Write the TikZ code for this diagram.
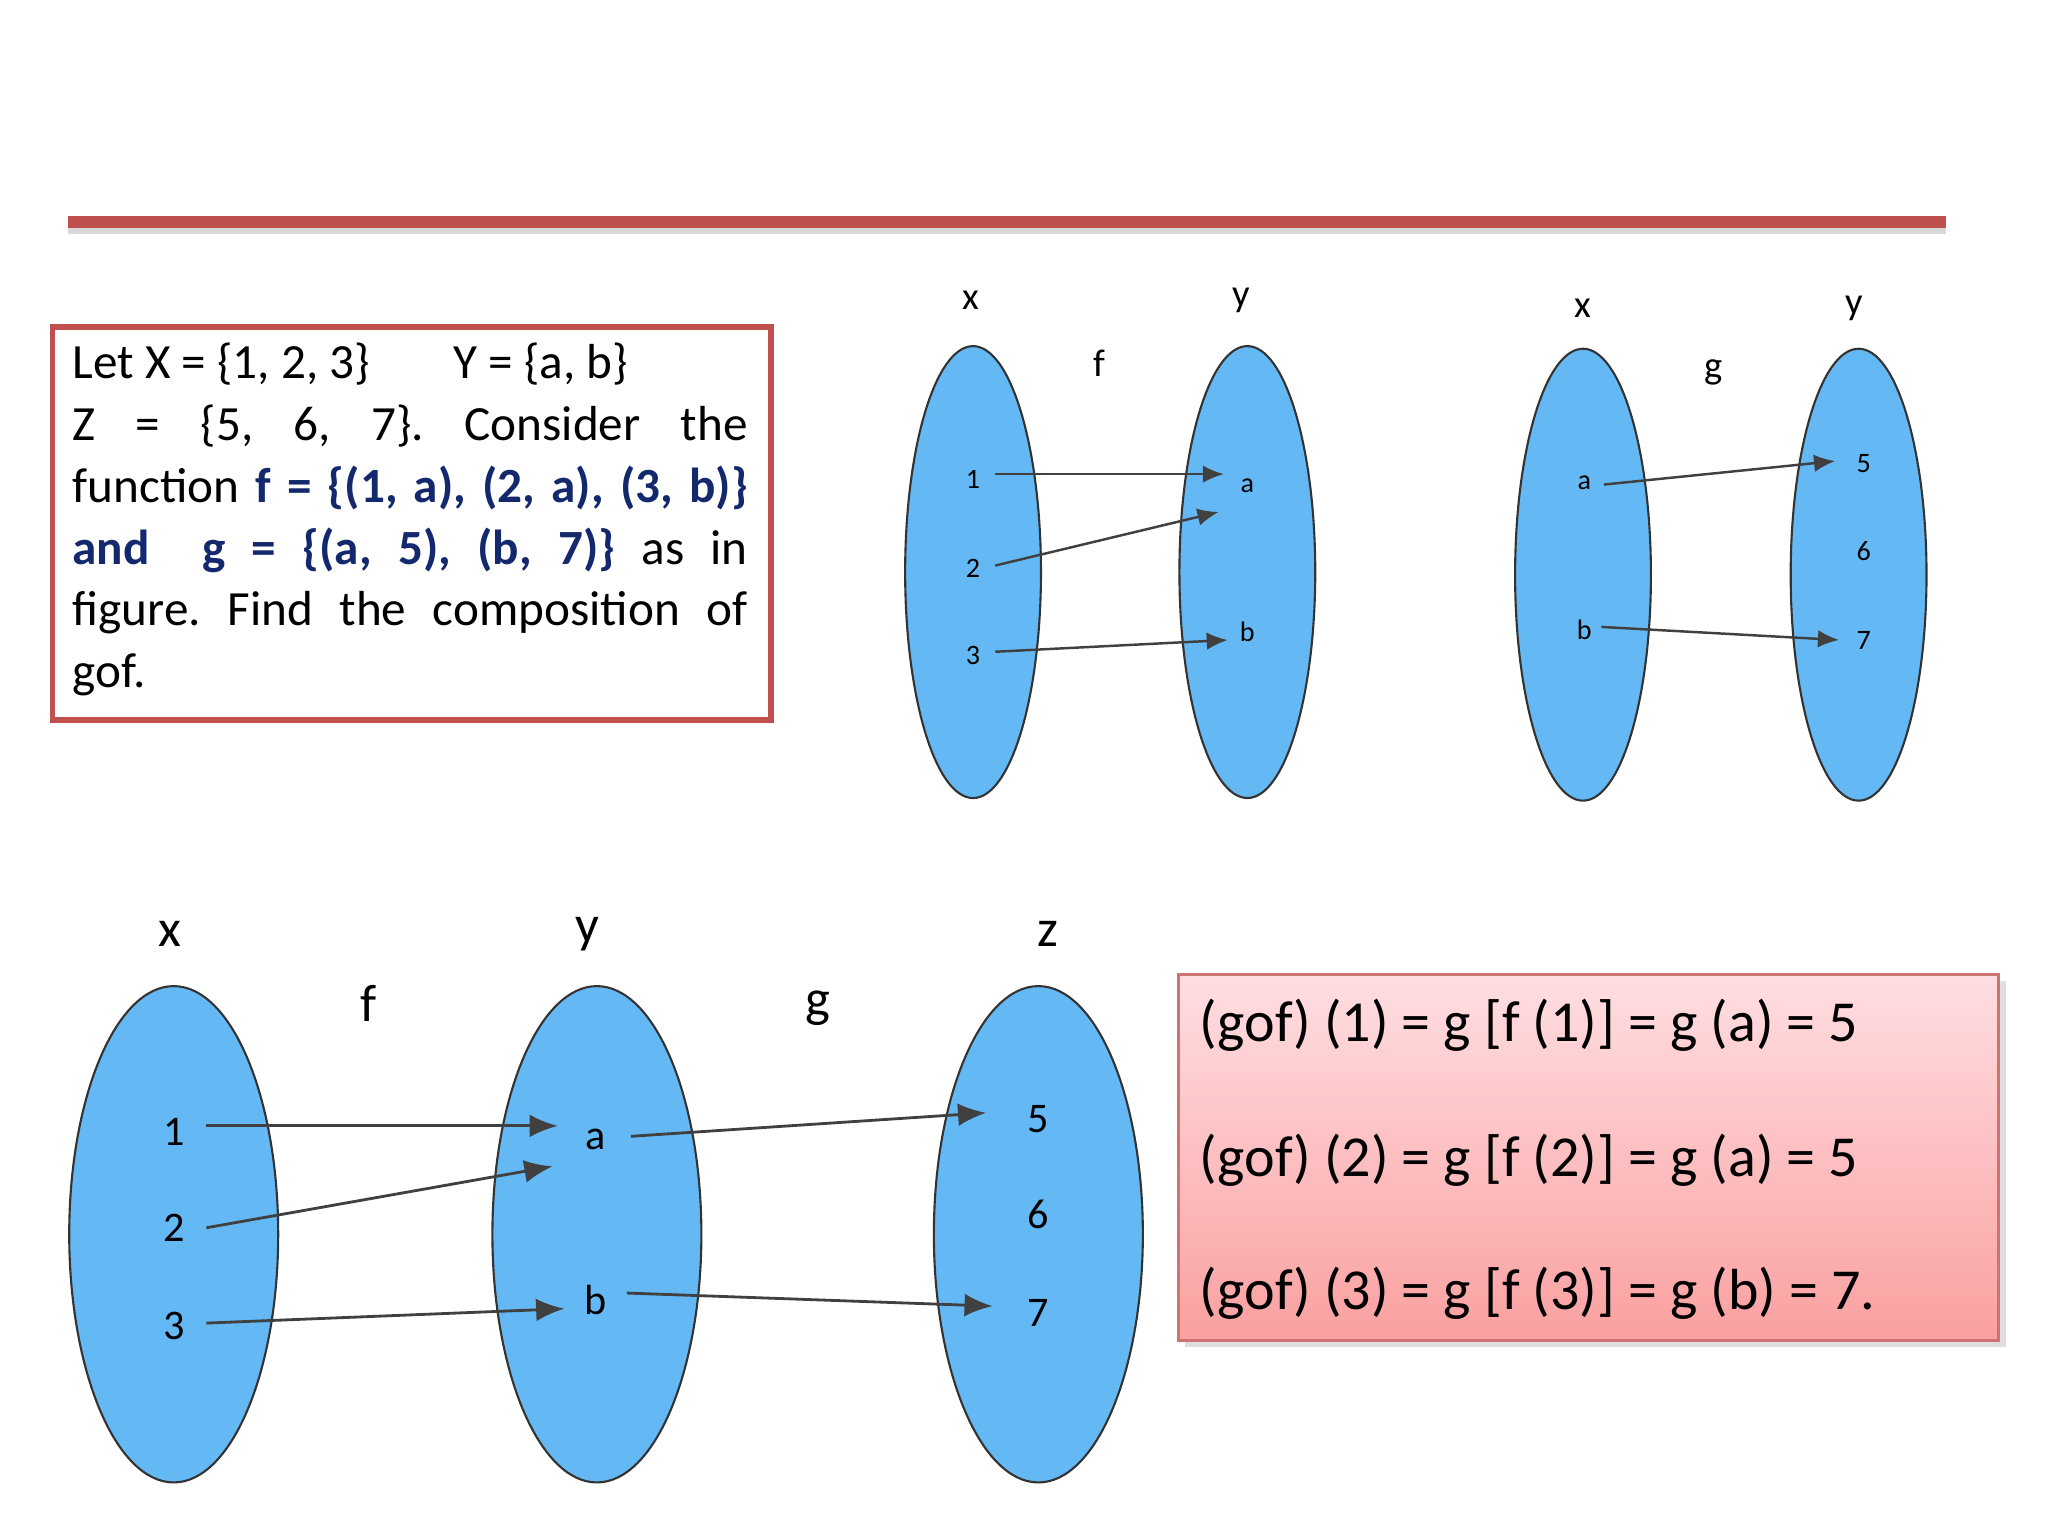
\documentclass[tikz,border=0pt]{standalone}
\usepackage{fontspec}
\setmainfont{Carlito}
\usetikzlibrary{shapes.geometric,arrows.meta,shadows}
\definecolor{redline}{RGB}{192,80,77}
\definecolor{setblue}{RGB}{100,185,245}
\definecolor{navy}{RGB}{20,40,110}
\definecolor{pinktop}{RGB}{255,222,226}
\definecolor{pinkbot}{RGB}{250,160,160}
\tikzset{
 setS/.style={ellipse,draw=black!80,fill=setblue,line width=0.6pt,minimum width=104*0.01306cm,minimum height=346*0.01306cm,inner sep=0},
 setL/.style={ellipse,draw=black!80,fill=setblue,line width=0.6pt,minimum width=160*0.01306cm,minimum height=380*0.01306cm,inner sep=0},
 lblS/.style={font=\fontsize{8}{9}\selectfont,inner sep=1pt},
 lblL/.style={font=\fontsize{12}{13}\selectfont,inner sep=1pt},
 capS/.style={font=\fontsize{11}{12}\selectfont},
 capL/.style={font=\fontsize{15}{16}\selectfont},
 arr/.style={-{Latex[length=6pt,width=5pt]},black!75,line width=0.7pt},
 arrL/.style={-{Latex[length=8pt,width=6.5pt]},black!75,line width=0.8pt}
}
\begin{document}
\frenchspacing
\begin{tikzpicture}[x=0.01306cm,y=-0.01306cm]
\useasboundingbox (0,0) rectangle (1568,1176);
% header line
\draw[black!15,line width=3pt] (52,175) -- (1490,175);
\draw[redline,line width=3.5pt] (52,170) -- (1490,170);
% problem box
\node[draw=redline,line width=1.6pt,minimum width=550*0.01306cm,minimum height=301*0.01306cm,anchor=north west] (pb) at (38,248) {};
\node[anchor=north west,text width=517*0.01306cm,align=justify,inner sep=0,font=\fontsize{14}{17.6}\selectfont] (pt) at (55,262)
{Let X = \{1, 2, 3\}\hspace{1.7em}Y = \{a, b\}\\ Z = \{5, 6, 7\}. Consider the\linebreak function \textcolor{navy}{\textbf{f = \{(1, a), (2, a), (3, b)\}}}\linebreak \textcolor{navy}{\textbf{and \ g = \{(a, 5), (b, 7)\}}} as in\linebreak figure. Find the composition of\linebreak gof.};
% top-left diagram
\node[setS] (X1) at (745,438) {};
\node[setS] (Y1) at (955,438) {};
\node[capS] (x1) at (743,230) {x};
\node[capS] (y1) at (950,230) {y};
\node[capS] (f1) at (842,278) {f};
\node[lblS] (e11) at (745,367) {1};
\node[lblS] (e12) at (745,435) {2};
\node[lblS] (e13) at (745,502) {3};
\node[lblS] (ea1) at (955,372) {a};
\node[lblS] (eb1) at (955,484) {b};
\coordinate (t11) at (937,363); \coordinate (s11) at (762,363);
\coordinate (t12) at (933,392); \coordinate (s12) at (762,433);
\coordinate (t13) at (940,490); \coordinate (s13) at (762,499);
\draw[arr] (s11) -- (t11);
\draw[arr] (s12) -- (t12);
\draw[arr] (s13) -- (t13);
% top-right diagram
\node[setS] (X2) at (1212,440) {};
\node[setS] (Y2) at (1423,440) {};
\node[capS] (x2) at (1212,236) {x};
\node[capS] (y2) at (1420,236) {y};
\node[capS] (g2) at (1312,285) {g};
\node[lblS] (ea2) at (1213,370) {a};
\node[lblS] (eb2) at (1213,482) {b};
\node[lblS] (e25) at (1427,355) {5};
\node[lblS] (e26) at (1427,422) {6};
\node[lblS] (e27) at (1427,490) {7};
\coordinate (sa2) at (1228,371); \coordinate (ta2) at (1405,353);
\coordinate (sb2) at (1226,480); \coordinate (tb2) at (1408,490);
\draw[arr] (sa2) -- (ta2);
\draw[arr] (sb2) -- (tb2);
% bottom diagram
\node[setL] (X3) at (133,945) {};
\node[setL] (Y3) at (457,945) {};
\node[setL] (Z3) at (795,945) {};
\node[capL] (x3) at (130,715) {x};
\node[capL] (y3) at (450,715) {y};
\node[capL] (z3) at (802,715) {z};
\node[capL] (f3) at (282,768) {f};
\node[capL] (g3) at (626,772) {g};
\node[lblL] (e31) at (133,867) {1};
\node[lblL] (e32) at (133,940) {2};
\node[lblL] (e33) at (133,1015) {3};
\node[lblL] (ea3) at (456,872) {a};
\node[lblL] (eb3) at (456,995) {b};
\node[lblL] (e35) at (795,857) {5};
\node[lblL] (e36) at (795,930) {6};
\node[lblL] (e37) at (795,1005) {7};
\coordinate (s31) at (158,862); \coordinate (t31) at (427,862);
\coordinate (s32) at (158,940); \coordinate (t32) at (423,893);
\coordinate (s33) at (158,1013); \coordinate (t33) at (432,1002);
\coordinate (sa3) at (483,870); \coordinate (ta3) at (755,852);
\coordinate (sb3) at (480,990); \coordinate (tb3) at (760,1000);
\draw[arrL] (s31) -- (t31);
\draw[arrL] (s32) -- (t32);
\draw[arrL] (s33) -- (t33);
\draw[arrL] (sa3) -- (ta3);
\draw[arrL] (sb3) -- (tb3);
% result box
\node[draw=redline!80,line width=0.8pt,top color=pinktop,bottom color=pinkbot,drop shadow={opacity=0.25,shadow xshift=2pt,shadow yshift=-2pt},minimum width=628*0.01306cm,minimum height=280*0.01306cm,anchor=north west] (rb) at (901,745) {};
\node[anchor=west,font=\fontsize{16.5}{17}\selectfont,inner sep=0] (r1) at (918,785) {(gof) (1) = g [f (1)] = g (a) = 5};
\node[anchor=west,font=\fontsize{16.5}{17}\selectfont,inner sep=0] (r2) at (918,888) {(gof) (2) = g [f (2)] = g (a) = 5};
\node[anchor=west,font=\fontsize{16.5}{17}\selectfont,inner sep=0] (r3) at (918,990) {(gof) (3) = g [f (3)] = g (b) = 7.};
\end{tikzpicture}
\end{document}
